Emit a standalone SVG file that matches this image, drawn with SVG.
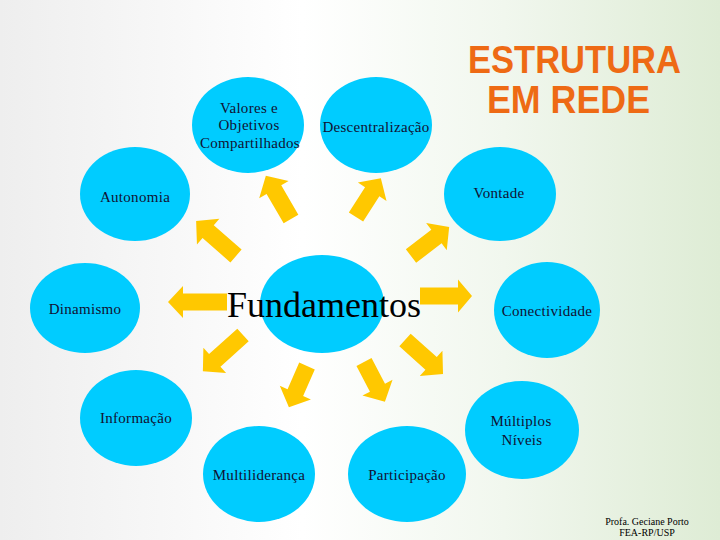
<svg xmlns="http://www.w3.org/2000/svg" width="720" height="540" viewBox="0 0 720 540">
<defs>
<linearGradient id="bg" x1="0" y1="0" x2="1" y2="0">
<stop offset="0" stop-color="#eeeeee"/>
<stop offset="0.42" stop-color="#ffffff"/>
<stop offset="0.7" stop-color="#f1f7ee"/>
<stop offset="1" stop-color="#deecd5"/>
</linearGradient>
</defs>
<style>
.node{fill:#00CCFF}
.lbl{font-family:"Liberation Serif","Times New Roman",serif;font-size:15px;fill:#111133;text-anchor:middle;letter-spacing:0.3px}
.arrow{fill:#FFC800}
.title{font-family:"Liberation Sans",Arial,sans-serif;font-weight:bold;font-size:38px;fill:#EE6A14}
.foot{font-family:"Liberation Serif","Times New Roman",serif;font-size:10px;fill:#000;text-anchor:middle}
</style>
<rect x="0" y="0" width="720" height="540" fill="url(#bg)"/>

<g id="title">
<text class="title" x="468" y="73" textLength="213" lengthAdjust="spacingAndGlyphs">ESTRUTURA</text>
<text class="title" x="487" y="113" textLength="163" lengthAdjust="spacingAndGlyphs">EM REDE</text>
</g>

<g id="connectors">
<polygon class="arrow" transform="translate(291,219) rotate(-120.2)" points="0,-8.5 34,-8.5 34,-17 50,0 34,17 34,8.5 0,8.5"/>
<polygon class="arrow" transform="translate(356,217) rotate(-57.3)" points="0,-8.5 30,-8.5 30,-17 46,0 30,17 30,8.5 0,8.5"/>
<polygon class="arrow" transform="translate(236,256) rotate(-138.8)" points="0,-8.5 37,-8.5 37,-17 53,0 37,17 37,8.5 0,8.5"/>
<polygon class="arrow" transform="translate(411,256) rotate(-37.3)" points="0,-8.5 32,-8.5 32,-17 48,0 32,17 32,8.5 0,8.5"/>
<polygon class="arrow" transform="translate(227,302) rotate(180)" points="0,-8.5 44,-8.5 44,-16 59,0 44,16 44,8.5 0,8.5"/>
<polygon class="arrow" transform="translate(420,296) rotate(0)" points="0,-8.5 38,-8.5 38,-16.5 52,0 38,16.5 38,8.5 0,8.5"/>
<polygon class="arrow" transform="translate(243,335) rotate(138)" points="0,-8.5 38,-8.5 38,-17 54,0 38,17 38,8.5 0,8.5"/>
<polygon class="arrow" transform="translate(307,366) rotate(113.7)" points="0,-8.5 29,-8.5 29,-17 45,0 29,17 29,8.5 0,8.5"/>
<polygon class="arrow" transform="translate(364,362) rotate(62.3)" points="0,-8.5 29,-8.5 29,-17 45,0 29,17 29,8.5 0,8.5"/>
<polygon class="arrow" transform="translate(405,340) rotate(41.8)" points="0,-8.5 35,-8.5 35,-17 51,0 35,17 35,8.5 0,8.5"/>
</g>

<g id="n-valores">
<ellipse class="node" cx="248" cy="125" rx="56" ry="48"/>
<text class="lbl" x="249" y="113">Valores e</text>
<text class="lbl" x="249" y="130">Objetivos</text>
<text class="lbl" x="250" y="148">Compartilhados</text>
</g>
<g id="n-descentralizacao">
<ellipse class="node" cx="376" cy="125" rx="56" ry="48"/>
<text class="lbl" x="376" y="132">Descentralização</text>
</g>
<g id="n-autonomia">
<ellipse class="node" cx="135" cy="194" rx="55" ry="47"/>
<text class="lbl" x="135" y="202">Autonomia</text>
</g>
<g id="n-vontade">
<ellipse class="node" cx="500" cy="194" rx="56" ry="47"/>
<text class="lbl" x="499" y="198">Vontade</text>
</g>
<g id="n-dinamismo">
<ellipse class="node" cx="85" cy="308" rx="55" ry="45"/>
<text class="lbl" x="85" y="314">Dinamismo</text>
</g>
<g id="n-fundamentos">
<ellipse class="node" cx="322" cy="304" rx="62" ry="49"/>
<text x="227" y="317" style="font-family:'Liberation Serif','Times New Roman',serif;font-size:36px;fill:#000">Fundamentos</text>
</g>
<g id="n-conectividade">
<ellipse class="node" cx="547" cy="310" rx="53" ry="48"/>
<text class="lbl" x="547" y="316">Conectividade</text>
</g>
<g id="n-informacao">
<ellipse class="node" cx="136" cy="418" rx="56" ry="48"/>
<text class="lbl" x="136" y="423">Informação</text>
</g>
<g id="n-multiplos">
<ellipse class="node" cx="522" cy="430" rx="57" ry="49"/>
<text class="lbl" x="521" y="426">Múltiplos</text>
<text class="lbl" x="522" y="445">Níveis</text>
</g>
<g id="n-multilideranca">
<ellipse class="node" cx="259" cy="474" rx="56" ry="48"/>
<text class="lbl" x="259" y="480">Multiliderança</text>
</g>
<g id="n-participacao">
<ellipse class="node" cx="407" cy="474" rx="59" ry="48"/>
<text class="lbl" x="407" y="480">Participação</text>
</g>

<g id="footer">
<text class="foot" x="647" y="525">Profa. Geciane Porto</text>
<text class="foot" x="647" y="536">FEA-RP/USP</text>
</g>
</svg>
